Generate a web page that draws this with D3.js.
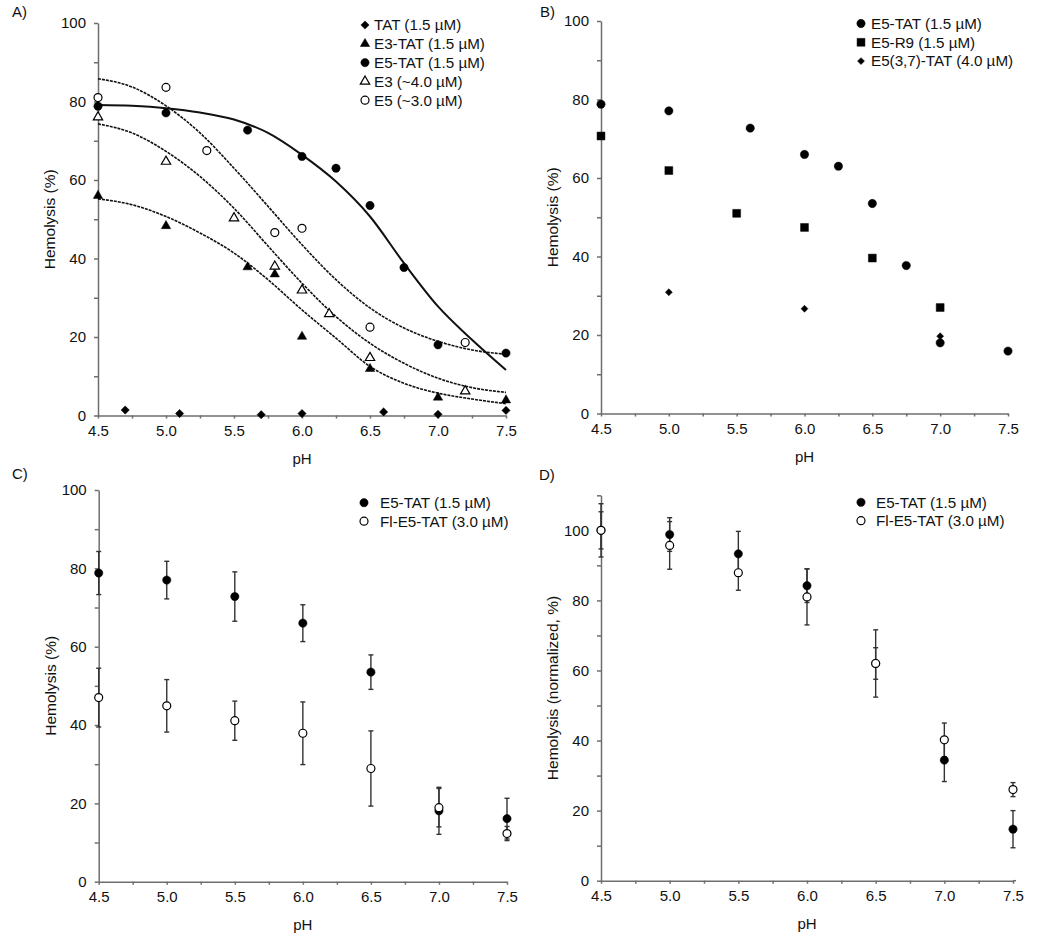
<!DOCTYPE html>
<html>
<head>
<meta charset="utf-8">
<script src="https://cdn.jsdelivr.net/npm/d3@7"></script>
<style>
  body { margin: 0; background: #fff; }
  svg { display: block; font-family: "Liberation Sans", Arial, sans-serif; }
  .tick text { font-family: "Liberation Sans", Arial, sans-serif; font-size: 15px; fill: #111; }
  .axis path, .axis line { stroke: #6e6e6e; stroke-width: 1.5; }
</style>
</head>
<body>
<svg id="chart" width="1050" height="938"></svg>
<script>
// ---- data ----
const xMajor = [4.5, 5.0, 5.5, 6.0, 6.5, 7.0, 7.5];
const xTicks = [4.5, 4.75, 5.0, 5.25, 5.5, 5.75, 6.0, 6.25, 6.5, 6.75, 7.0, 7.25, 7.5];
const yTicks100 = [0, 10, 20, 30, 40, 50, 60, 70, 80, 90, 100];
const yTicks110 = [0, 10, 20, 30, 40, 50, 60, 70, 80, 90, 100, 110];
const yMajor = [0, 20, 40, 60, 80, 100];

// panel A
const tatPH = [4.7, 5.1, 5.7, 6.0, 6.6, 7.0, 7.5];
const tatVal = [1.4, 0.5, 0.2, 0.5, 0.9, 0.3, 1.3];
const e3tatPH = [4.5, 5.0, 5.6, 5.8, 6.0, 6.5, 7.0, 7.5];
const e3tatVal = [56.0, 48.3, 37.8, 36.0, 20.1, 11.9, 4.6, 3.9];
const e5tatPH = [4.5, 5.0, 5.6, 6.0, 6.25, 6.5, 6.75, 7.0, 7.5];
const e5tatVal = [78.8, 77.1, 72.7, 66.0, 63.0, 53.5, 37.7, 18.0, 15.9];
const e3PH = [4.5, 5.0, 5.5, 5.8, 6.0, 6.2, 6.5, 7.2];
const e3Val = [76.0, 64.7, 50.3, 38.0, 31.9, 25.9, 14.7, 6.2];
const e5PH = [4.5, 5.0, 5.3, 5.8, 6.0, 6.5, 7.2];
const e5Val = [81.0, 83.6, 67.5, 46.6, 47.7, 22.5, 18.6];

// fitted curves
const fitPH = [4.5, 4.75, 5.0, 5.25, 5.5, 5.75, 6.0, 6.25, 6.5, 6.75, 7.0, 7.25, 7.5];
const fitE5tat = [79.1, 78.9, 78.3, 77.2, 75.4, 72.0, 66.4, 59.6, 50.7, 38.8, 27.8, 19.3, 11.6];
const fitE5 = [85.8, 83.7, 78.9, 72.0, 63.0, 53.3, 43.5, 34.6, 27.4, 22.3, 18.9, 16.7, 15.6];
const fitE3 = [74.3, 72.0, 67.3, 60.9, 52.8, 43.2, 33.7, 25.2, 18.4, 13.3, 9.5, 7.1, 5.9];
const fitE3tat = [55.2, 53.7, 50.7, 46.5, 41.4, 34.6, 26.9, 19.7, 12.5, 8.2, 5.7, 4.2, 3.0];

// panel B
const r9PH = [4.5, 5.0, 5.5, 6.0, 6.5, 7.0];
const r9Val = [70.7, 61.9, 51.0, 47.4, 39.6, 27.0];
const e537PH = [5.0, 6.0, 7.0];
const e537Val = [30.9, 26.7, 19.7];

// panels C and D
const cdPH = [4.5, 5.0, 5.5, 6.0, 6.5, 7.0, 7.5];
const cE5tat = [78.8, 77.0, 72.8, 66.0, 53.5, 18.1, 16.1];
const cE5tatErr = [5.5, 4.8, 6.3, 4.7, 4.4, 6.0, 5.2];
const cFl = [47.0, 44.9, 41.1, 37.9, 28.9, 18.9, 12.3];
const cFlErr = [7.5, 6.7, 5.0, 8.0, 9.6, 4.9, 1.8];
const dE5tat = [100, 98.8, 93.3, 84.2, 62.0, 34.4, 14.7];
const dE5tatErr = [7.6, 4.8, 6.4, 4.8, 4.5, 6.1, 5.3];
const dFl = [100, 95.7, 87.9, 81.0, 62.0, 40.2, 26.0];
const dFlErr = [5.3, 6.8, 5.0, 8.0, 9.6, 4.8, 2.0];

const zip = (xs, ys, es) => xs.map((x, i) => ({x: x, y: ys[i], e: es ? es[i] : 0}));

const svg = d3.select("#chart");

// marker shapes
const shapes = {
  circle: {type: d3.symbolCircle, size: 54, rot: 0, fill: "#000"},
  ocircle: {type: d3.symbolCircle, size: 50, rot: 0, fill: "#fff"},
  tri: {type: d3.symbolTriangle, size: 38, rot: 0, fill: "#000"},
  otri: {type: d3.symbolTriangle, size: 38, rot: 0, fill: "#fff"},
  diamond: {type: d3.symbolSquare, size: 34, rot: 45, fill: "#000"},
  sdiamond: {type: d3.symbolSquare, size: 24, rot: 45, fill: "#000"},
  square: {type: d3.symbolSquare, size: 62, rot: 0, fill: "#000"}
};

function marker(g, shape, cx, cy) {
  let s = shapes[shape];
  g.append("path")
    .attr("d", d3.symbol().type(s.type).size(s.size)())
    .attr("transform", "translate(" + cx + "," + cy + ") rotate(" + s.rot + ")")
    .attr("fill", s.fill)
    .attr("stroke", "#000")
    .attr("stroke-width", s.fill === "#fff" ? 1.2 : 0.5);
}

function panel(p) {
  let g = svg.append("g");
  let x = d3.scaleLinear().domain([4.5, 7.5]).range(p.xr);
  let y = d3.scaleLinear().domain([0, p.ymax]).range(p.yr);

  g.append("g").attr("class", "axis")
    .attr("transform", "translate(0," + p.yr[0] + ")")
    .call(d3.axisBottom(x).tickValues(xTicks).tickSizeInner(3).tickSizeOuter(0).tickPadding(7)
      .tickFormat(d => xMajor.some(m => Math.abs(m - d) < 1e-6) ? d3.format(".1f")(d) : ""));

  g.append("g").attr("class", "axis")
    .attr("transform", "translate(" + p.xr[0] + ",0)")
    .call(d3.axisLeft(y).tickValues(p.yt).tickSizeInner(4).tickSizeOuter(0).tickPadding(8)
      .tickFormat(d => yMajor.includes(d) ? d : ""));

  if (p.xExtra) {
    g.append("line").attr("x1", p.xr[1]).attr("x2", p.xr[1] + p.xExtra)
      .attr("y1", p.yr[0]).attr("y2", p.yr[0])
      .attr("stroke", "#6e6e6e").attr("stroke-width", 1.5);
  }

  g.append("text").text(p.label)
    .attr("x", p.lx).attr("y", p.ly).attr("dy", "0.35em")
    .attr("font-size", 15).attr("fill", "#111");

  g.append("text").text("pH")
    .attr("x", (p.xr[0] + p.xr[1]) / 2).attr("y", p.yr[0] + 43).attr("dy", "0.35em")
    .attr("text-anchor", "middle").attr("font-size", 15).attr("fill", "#111");

  g.append("text").text(p.ytitle)
    .attr("transform", "translate(" + (p.xr[0] - 48) + "," + ((p.yr[0] + p.yr[1]) / 2) + ") rotate(-90)")
    .attr("dy", "0.35em")
    .attr("text-anchor", "middle").attr("font-size", 15.5).attr("fill", "#111");

  let line = d3.line().x(d => x(d.x)).y(d => y(d.y)).curve(d3.curveMonotoneX);
  (p.curves || []).forEach(c => {
    g.append("path").datum(c.pts)
      .attr("d", line)
      .attr("fill", "none")
      .attr("stroke", "#111")
      .attr("stroke-width", c.w)
      .attr("stroke-dasharray", c.dash);
  });

  p.series.forEach(s => {
    s.pts.forEach(d => {
      if (d.e > 0) {
        let xc = x(d.x);
        g.append("line").attr("x1", xc).attr("x2", xc)
          .attr("y1", y(d.y - d.e)).attr("y2", y(d.y + d.e))
          .attr("stroke", "#333").attr("stroke-width", 1.4);
        [d.y - d.e, d.y + d.e].forEach(v => {
          g.append("line").attr("x1", xc - 2.5).attr("x2", xc + 2.5)
            .attr("y1", y(v)).attr("y2", y(v))
            .attr("stroke", "#333").attr("stroke-width", 1.4);
        });
      }
    });
  });

  p.series.forEach(s => {
    s.pts.forEach(d => marker(g, s.shape, x(d.x), y(d.y)));
  });

  p.series.forEach((s, i) => {
    let ry = p.leg.y + i * p.leg.dy;
    marker(g, s.shape, p.leg.mx, ry);
    g.append("text").text(s.name)
      .attr("x", p.leg.tx).attr("y", ry).attr("dy", "0.35em")
      .attr("font-size", 15.2).attr("fill", "#111");
  });
}

panel({
  label: "A)", lx: 12, ly: 12,
  xr: [98, 506], yr: [415.5, 23], ymax: 100, yt: yTicks100,
  ytitle: "Hemolysis (%)",
  curves: [
    {pts: zip(fitPH, fitE5tat), w: 2, dash: null},
    {pts: zip(fitPH, fitE5), w: 1.6, dash: "3,1"},
    {pts: zip(fitPH, fitE3), w: 1.6, dash: "3,1"},
    {pts: zip(fitPH, fitE3tat), w: 1.6, dash: "3,1"}
  ],
  series: [
    {name: "TAT (1.5 \u00b5M)", shape: "diamond", pts: zip(tatPH, tatVal)},
    {name: "E3-TAT (1.5 \u00b5M)", shape: "tri", pts: zip(e3tatPH, e3tatVal)},
    {name: "E5-TAT (1.5 \u00b5M)", shape: "circle", pts: zip(e5tatPH, e5tatVal)},
    {name: "E3 (~4.0 \u00b5M)", shape: "otri", pts: zip(e3PH, e3Val)},
    {name: "E5 (~3.0 \u00b5M)", shape: "ocircle", pts: zip(e5PH, e5Val)}
  ],
  leg: {mx: 365, tx: 374, y: 25, dy: 18.8}
});

panel({
  label: "B)", lx: 540, ly: 12,
  xr: [601, 1008], yr: [413.5, 21], ymax: 100, yt: yTicks100,
  ytitle: "Hemolysis (%)",
  series: [
    {name: "E5-TAT (1.5 \u00b5M)", shape: "circle", pts: zip(e5tatPH, e5tatVal)},
    {name: "E5-R9 (1.5 \u00b5M)", shape: "square", pts: zip(r9PH, r9Val)},
    {name: "E5(3,7)-TAT (4.0 \u00b5M)", shape: "sdiamond", pts: zip(e537PH, e537Val)}
  ],
  leg: {mx: 861, tx: 871, y: 23.5, dy: 18.8}
});

panel({
  label: "C)", lx: 12, ly: 474,
  xr: [98.7, 507], yr: [881.7, 490], ymax: 100, yt: yTicks100,
  ytitle: "Hemolysis (%)",
  series: [
    {name: "E5-TAT (1.5 \u00b5M)", shape: "circle", pts: zip(cdPH, cE5tat, cE5tatErr)},
    {name: "Fl-E5-TAT (3.0 \u00b5M)", shape: "ocircle", pts: zip(cdPH, cFl, cFlErr)}
  ],
  leg: {mx: 364, tx: 380, y: 502.7, dy: 18.5}
});

panel({
  label: "D)", lx: 539, ly: 475,
  xr: [601, 1013], yr: [880.7, 495.3], ymax: 110, yt: yTicks110, xExtra: 3,
  ytitle: "Hemolysis (normalized, %)",
  series: [
    {name: "E5-TAT (1.5 \u00b5M)", shape: "circle", pts: zip(cdPH, dE5tat, dE5tatErr)},
    {name: "Fl-E5-TAT (3.0 \u00b5M)", shape: "ocircle", pts: zip(cdPH, dFl, dFlErr)}
  ],
  leg: {mx: 861, tx: 876, y: 502.3, dy: 18.4}
});
</script>
</body>
</html>
